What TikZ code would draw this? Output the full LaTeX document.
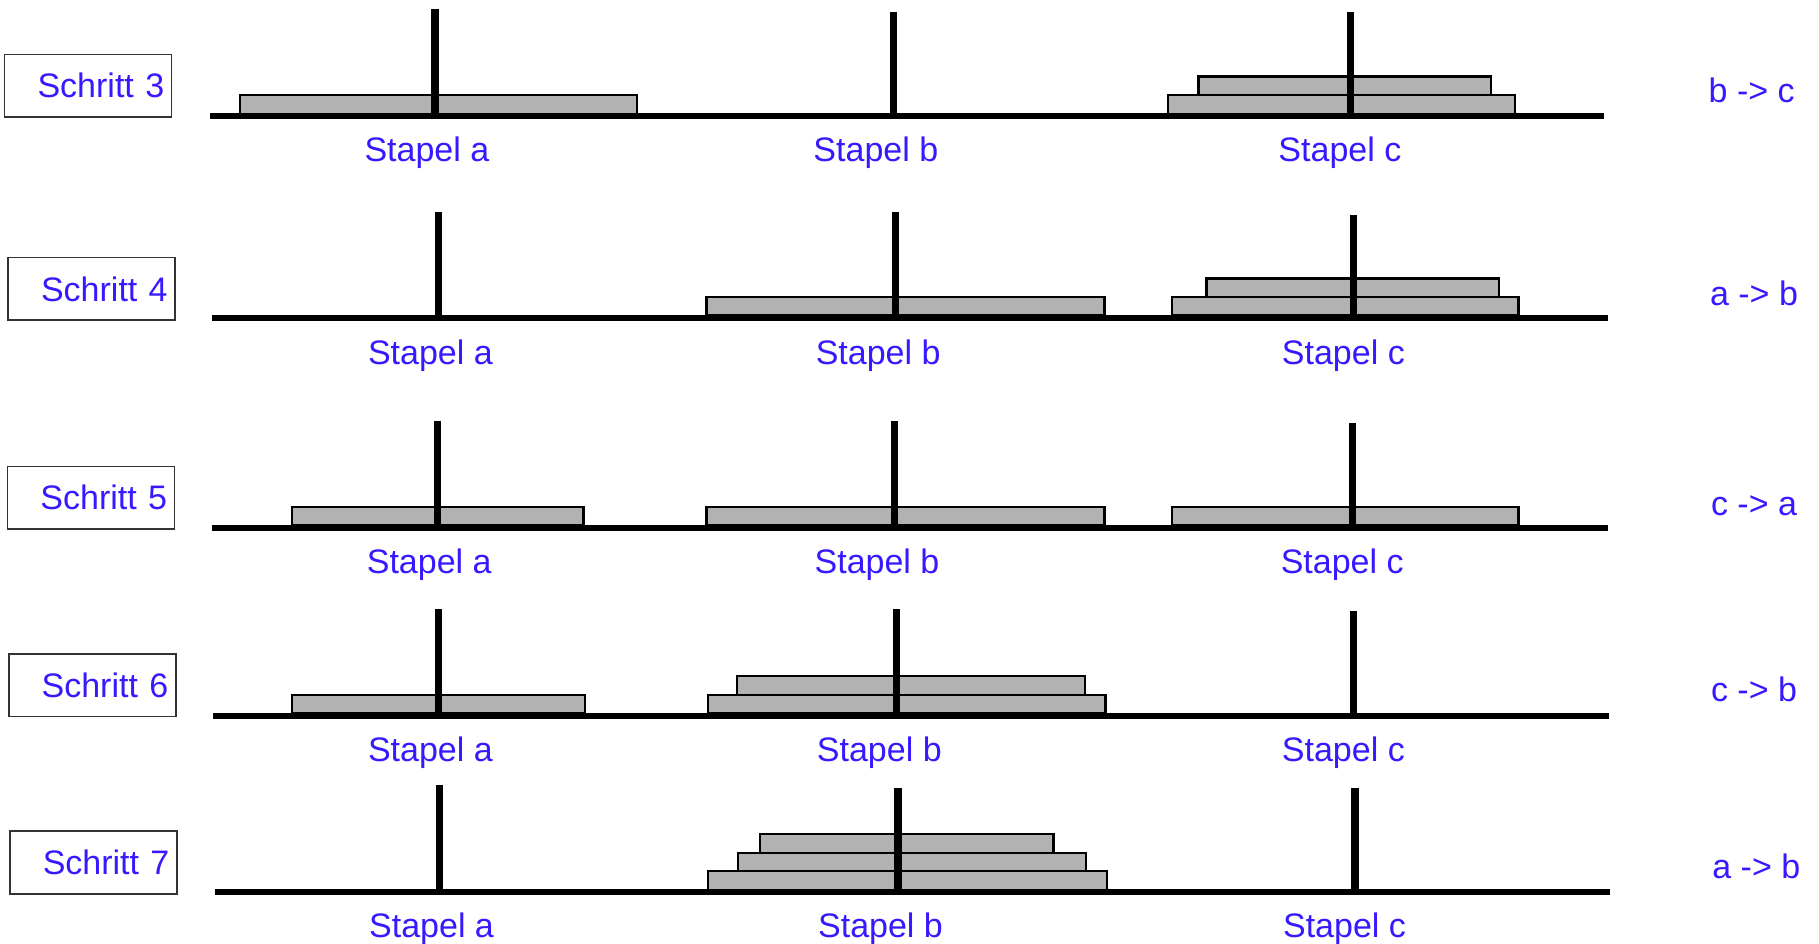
\documentclass[tikz,border=0pt]{standalone}
\usepackage{fontspec}
\setmainfont{Liberation Sans}
\definecolor{txtblue}{RGB}{55,25,255}
\definecolor{diskgray}{RGB}{178,178,178}
\begin{document}
\begin{tikzpicture}[x=0.58pt,y=-0.58pt,
  base/.style={line width=3.2pt},
  peg/.style={line width=3.6pt},
  disk/.style={draw=black, line width=1.15pt, fill=diskgray},
  lbl/.style={text=txtblue, font=\fontsize{17}{20}\selectfont, anchor=base, inner sep=0pt},
  mv/.style={lbl},
  stepbox/.style={draw=black!80, line width=0.8pt, minimum width=83.5pt, minimum height=31.3pt,
    text width=76pt, align=right, inner sep=2pt, text=txtblue, font=\fontsize{17}{20}\selectfont}]
\useasboundingbox (0,0) rectangle (1568,813);

% ---------- Row 1: Schritt 3 ----------
\node[stepbox] (s3) at (76,74) {Schritt 3};
\draw[base] (181,100) -- (1383,100);
\draw[disk] (207,82) rectangle (549,98);
\draw[disk] (1007,82) rectangle (1306,98);
\draw[disk] (1033,66) rectangle (1285,82);
\draw[peg] (375,8) -- (375,102);
\draw[peg] (770,10) -- (770,102);
\draw[peg] (1164,10) -- (1164,102);
\node[lbl] (r1a) at (368,139) {Stapel a};
\node[lbl] (r1b) at (755,139) {Stapel b};
\node[lbl] (r1c) at (1155,139) {Stapel c};
\node[mv] (m3) at (1510,88) {b -> c};

% ---------- Row 2: Schritt 4 ----------
\node[stepbox] (s4) at (79,249) {Schritt 4};
\draw[base] (183,274) -- (1386,274);
\draw[disk] (609,256) rectangle (952,272);
\draw[disk] (1010,256) rectangle (1309,272);
\draw[disk] (1040,240) rectangle (1292,256);
\draw[peg] (378,183) -- (378,276);
\draw[peg] (772,183) -- (772,276);
\draw[peg] (1167,185) -- (1167,276);
\node[lbl] (r2a) at (371,314) {Stapel a};
\node[lbl] (r2b) at (757,314) {Stapel b};
\node[lbl] (r2c) at (1158,314) {Stapel c};
\node[mv] (m4) at (1512,263) {a -> b};

% ---------- Row 3: Schritt 5 ----------
\node[stepbox] (s5) at (78.5,429) {Schritt 5};
\draw[base] (183,455) -- (1386,455);
\draw[disk] (252,437) rectangle (503,453);
\draw[disk] (609,437) rectangle (952,453);
\draw[disk] (1010,437) rectangle (1309,453);
\draw[peg] (377,363) -- (377,457);
\draw[peg] (771,363) -- (771,457);
\draw[peg] (1166,365) -- (1166,457);
\node[lbl] (r3a) at (370,494) {Stapel a};
\node[lbl] (r3b) at (756,494) {Stapel b};
\node[lbl] (r3c) at (1157,494) {Stapel c};
\node[mv] (m5) at (1512,444) {c -> a};

% ---------- Row 4: Schritt 6 ----------
\node[stepbox] (s6) at (79.5,590.5) {Schritt 6};
\draw[base] (184,617) -- (1387,617);
\draw[disk] (252,599) rectangle (504,615);
\draw[disk] (610,599) rectangle (953,615);
\draw[disk] (635,583) rectangle (935,599);
\draw[peg] (378,525) -- (378,619);
\draw[peg] (773,525) -- (773,619);
\draw[peg] (1167,527) -- (1167,619);
\node[lbl] (r4a) at (371,656) {Stapel a};
\node[lbl] (r4b) at (758,656) {Stapel b};
\node[lbl] (r4c) at (1158,656) {Stapel c};
\node[mv] (m6) at (1512,605) {c -> b};

% ---------- Row 5: Schritt 7 ----------
\node[stepbox] (s7) at (80.5,743.5) {Schritt 7};
\draw[base] (185,769) -- (1388,769);
\draw[disk] (610,751) rectangle (954,767);
\draw[disk] (636,735) rectangle (936,751);
\draw[disk] (655,719) rectangle (908,735);
\draw[peg] (379,677) -- (379,771);
\draw[peg] (774,679) -- (774,771);
\draw[peg] (1168,679) -- (1168,771);
\node[lbl] (r5a) at (372,808) {Stapel a};
\node[lbl] (r5b) at (759,808) {Stapel b};
\node[lbl] (r5c) at (1159,808) {Stapel c};
\node[mv] (m7) at (1514,757) {a -> b};
\end{tikzpicture}
\end{document}
